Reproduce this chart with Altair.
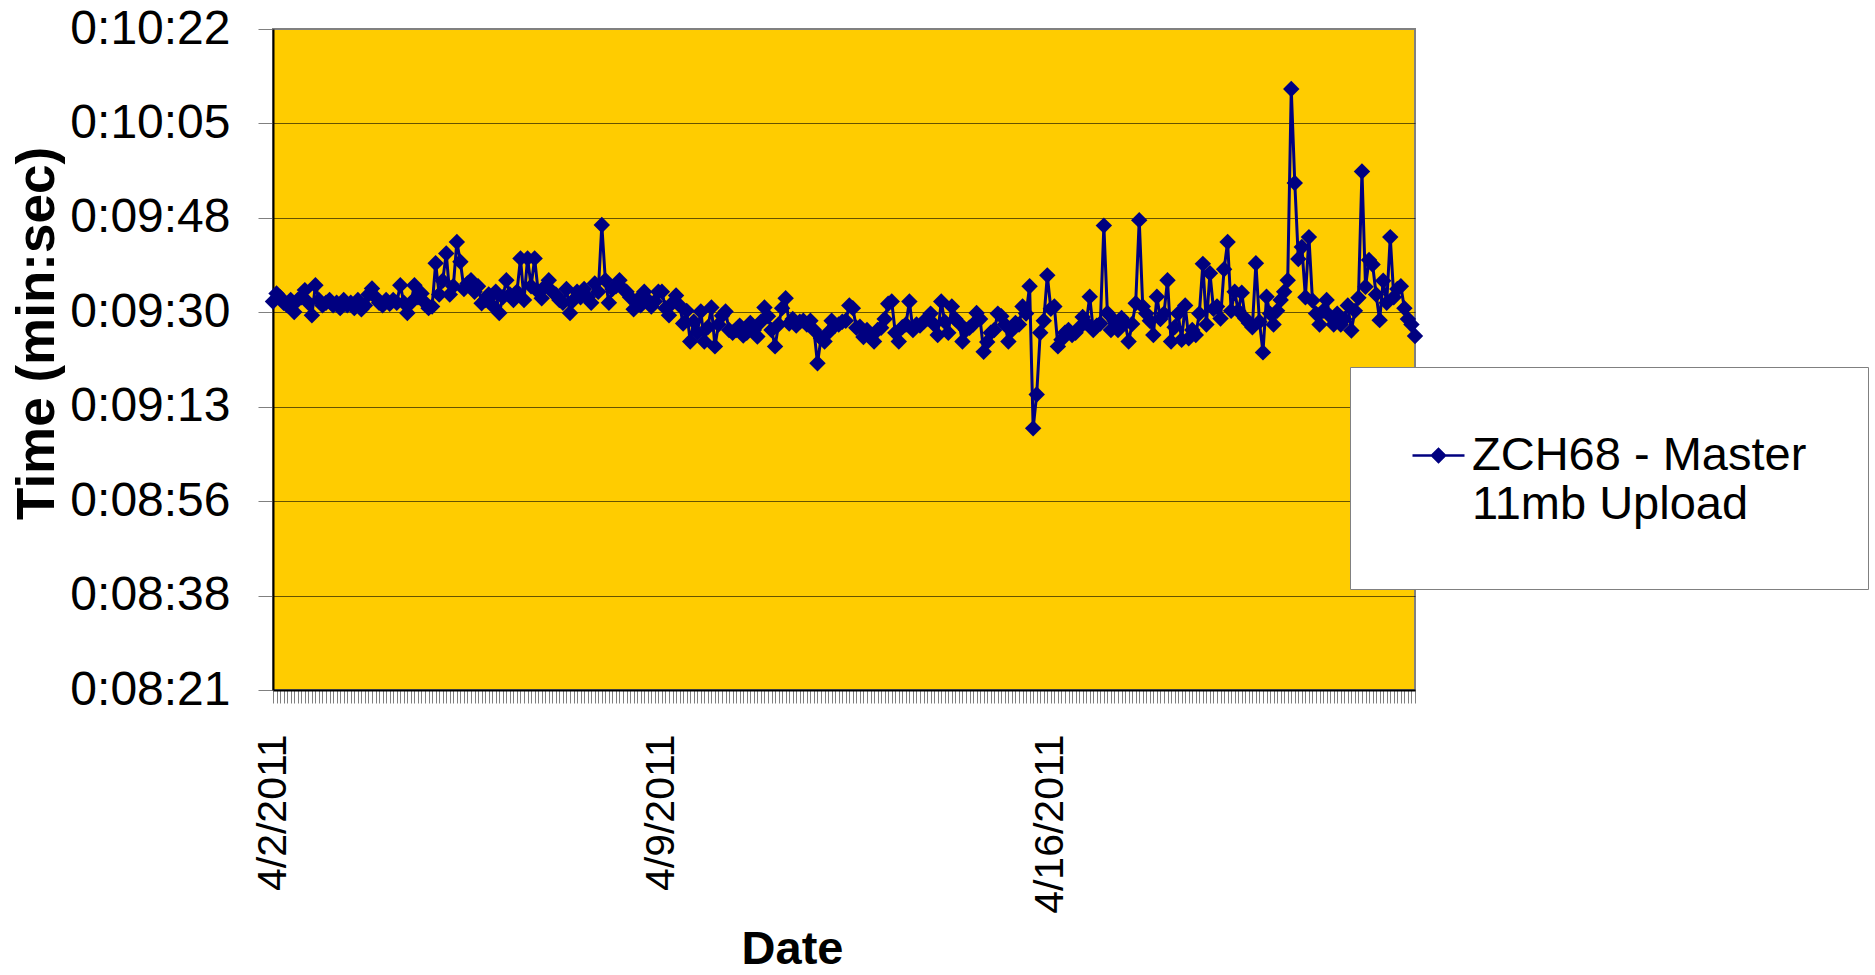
import altair as alt
import pandas as pd

# Upload time of each run, in seconds
upload_seconds = [
    572.2, 573.7, 573.0, 572.0, 571.5, 572.5, 570.3, 572.5, 573.0, 574.3,
    572.0, 569.7, 575.2, 572.5, 571.5, 572.0, 572.5, 571.5, 572.0, 571.0,
    572.5, 571.5, 572.0, 571.0, 572.5, 570.8, 571.5, 573.5, 574.6, 573.0,
    572.0, 571.5, 572.5, 571.8, 572.5, 572.0, 575.2, 572.0, 570.1, 572.0,
    575.2, 573.0, 573.7, 572.0, 571.0, 571.3, 579.2, 573.5, 576.0, 581.0,
    573.5, 575.0, 583.1, 579.5, 574.5, 575.5, 576.1, 574.0, 575.0, 571.9,
    572.5, 573.5, 571.5, 574.0, 570.1, 573.0, 576.1, 573.5, 572.5, 574.0,
    580.1, 572.5, 580.1, 575.0, 580.1, 574.0, 572.8, 575.0, 576.1, 574.0,
    573.5, 572.5, 572.0, 574.5, 570.1, 572.5, 574.0, 573.0, 574.5, 573.0,
    572.0, 575.5, 574.0, 586.2, 576.1, 572.0, 574.5, 575.0, 576.1, 574.5,
    574.0, 573.0, 570.8, 572.5, 571.5, 574.0, 572.5, 571.3, 572.2, 574.0,
    574.0, 571.0, 569.7, 572.0, 573.3, 571.5, 568.2, 570.5, 564.9, 568.5,
    566.5, 570.4, 564.9, 567.5, 571.1, 564.0, 568.0, 569.6, 570.4, 567.0,
    566.5, 567.0, 567.8, 566.0, 566.5, 568.3, 567.0, 565.8, 568.5, 571.1,
    569.5, 567.0, 564.0, 568.0, 571.0, 572.8, 568.2, 569.0, 567.8, 568.5,
    568.7, 568.0, 568.7, 567.0, 560.9, 565.5, 564.9, 566.5, 568.7, 567.8,
    568.0, 568.5, 568.7, 571.5, 571.0, 567.4, 567.6, 565.7, 567.0, 565.7,
    564.9, 567.0, 567.4, 569.0, 571.8, 572.2, 566.5, 564.9, 567.5, 568.0,
    572.2, 567.0, 568.0, 567.8, 568.5, 569.1, 570.0, 568.0, 566.1, 572.2,
    568.5, 566.5, 571.3, 569.0, 568.3, 564.9, 567.0, 567.4, 568.0, 570.1,
    569.0, 563.0, 564.8, 566.5, 567.0, 570.0, 569.5, 568.0, 564.9, 567.0,
    568.3, 568.0, 571.3, 570.0, 575.0, 549.0, 555.2, 566.5, 568.7, 577.0,
    570.9, 571.3, 564.0, 565.2, 566.5, 567.0, 566.1, 566.5, 567.4, 569.4,
    568.3, 573.1, 567.0, 567.8, 568.2, 586.1, 570.1, 567.0, 568.7, 567.0,
    569.2, 568.3, 564.9, 568.1, 571.9, 587.1, 571.3, 570.0, 568.7, 566.1,
    573.1, 569.0, 570.0, 576.1, 564.9, 567.5, 570.0, 565.2, 571.5, 565.5,
    567.0, 566.1, 570.0, 579.1, 568.0, 577.4, 570.9, 571.3, 569.1, 578.1,
    583.1, 570.5, 574.0, 570.5, 573.8, 569.1, 568.3, 567.5, 579.2, 568.5,
    562.9, 573.1, 570.0, 568.0, 570.5, 572.5, 574.0, 576.1, 611.1, 593.9,
    580.0, 582.2, 573.0, 584.0, 572.4, 570.0, 568.0, 570.5, 572.5, 569.5,
    568.0, 570.0, 568.0, 569.0, 571.5, 566.9, 570.5, 572.9, 596.0, 574.9,
    579.8, 579.0, 573.5, 568.8, 576.0, 572.0, 584.0, 573.0, 574.5, 575.0,
    571.0, 569.0, 568.0, 565.9,
]

# Category axis labels and the run index where each appears
date_labels = ["4/2/2011", "4/9/2011", "4/16/2011"]
date_label_index = [0, 110, 220]

# Y axis ticks (seconds): 0:08:21 ... 0:10:22
y_tick_seconds = [501.12, 518.4, 535.68, 552.96, 570.24, 587.52, 604.8, 622.08]

legend_lines = ["ZCH68 - Master", "11mb Upload"]
series_name = " ".join(legend_lines)

FONT = "Liberation Sans"
NAVY = "#000080"

n = len(upload_seconds)
df = pd.DataFrame({
    "run": list(range(n)),
    "seconds": upload_seconds,
    "series": [series_name] * n,
})

x_label_expr = " : ".join(
    f"datum.value == {i} ? '{d}'" for i, d in zip(date_label_index, date_labels)
) + " : ''"

y_label_expr = (
    "'0:' + pad(toString(floor(round(datum.value) / 60)), 2, '0', 'left')"
    " + ':' + pad(toString(round(datum.value) % 60), 2, '0', 'left')"
)

legend_label_expr = "[" + ", ".join(f"'{t}'" for t in legend_lines) + "]"

x_enc = alt.X(
    "run:Q",
    scale=alt.Scale(domain=[0, n - 1], nice=False, zero=False),
    axis=alt.Axis(
        values=list(range(n)),
        labelExpr=x_label_expr,
        labelAngle=270,
        labelAlign="right",
        labelBaseline="middle",
        labelFontSize=41,
        labelFont=FONT,
        labelColor="#000000",
        labelPadding=31,
        labelOverlap=False,
        labelFlush=False,
        tickSize=13,
        tickColor="#808080",
        tickWidth=1,
        domainColor="#000000",
        domainWidth=2,
        grid=False,
        title="Date",
        titleFont=FONT,
        titleFontSize=47,
        titleFontWeight="bold",
        titleColor="#000000",
        titleX=519,
        titleY=259,
        titleAlign="center",
        titleBaseline="middle",
    ),
)

y_enc = alt.Y(
    "seconds:Q",
    scale=alt.Scale(domain=[y_tick_seconds[0], y_tick_seconds[-1]], nice=False, zero=False),
    axis=alt.Axis(
        values=y_tick_seconds,
        labelExpr=y_label_expr,
        labelFont=FONT,
        labelFontSize=48,
        labelColor="#000000",
        labelPadding=28,
        tickSize=15,
        tickColor="#808080",
        domainColor="#000000",
        domainWidth=2,
        grid=True,
        gridColor="#000000",
        gridOpacity={"condition": {"test": "datum.value > 620", "value": 0}, "value": 0.6},
        title="Time (min:sec)",
        titleFont=FONT,
        titleFontSize=53,
        titleFontWeight="bold",
        titleColor="#000000",
        titleAngle=270,
        titleX=-236,
        titleY=304,
        titleAlign="center",
        titleBaseline="middle",
    ),
)

color_enc = alt.Color(
    "series:N",
    scale=alt.Scale(range=[NAVY]),
    legend=alt.Legend(
        title=None,
        orient="none",
        legendX=1077,
        legendY=338,
        fillColor="#FFFFFF",
        strokeColor="#808080",
        padding=61,
        symbolType="M-1,0 L1,0 M-0.25,0 L0,-0.25 L0.25,0 L0,0.25 Z",
        symbolSize=2704,
        symbolStrokeWidth=2.5,
        symbolFillColor=NAVY,
        symbolStrokeColor=NAVY,
        labelFont=FONT,
        labelFontSize=47,
        labelColor="#000000",
        labelLimit=800,
        labelOffset=6,
        labelExpr=legend_label_expr,
    ),
)

base = alt.Chart(df).encode(x=x_enc, y=y_enc, color=color_enc)

line = base.mark_line(strokeWidth=3)
points = base.mark_point(shape="diamond", filled=True, size=270, opacity=1)

chart = alt.layer(line, points).properties(
    width=1142,
    height=661,
    padding={"left": 273, "top": 29, "right": 460, "bottom": 285},
    autosize=alt.AutoSizeParams(type="none"),
    background="#FFFFFF",
).configure_view(
    fill="#FFCC00",
    stroke="#808080",
    strokeWidth=2,
)

chart.save("out.html", embed_options={"renderer": "svg", "actions": False})
